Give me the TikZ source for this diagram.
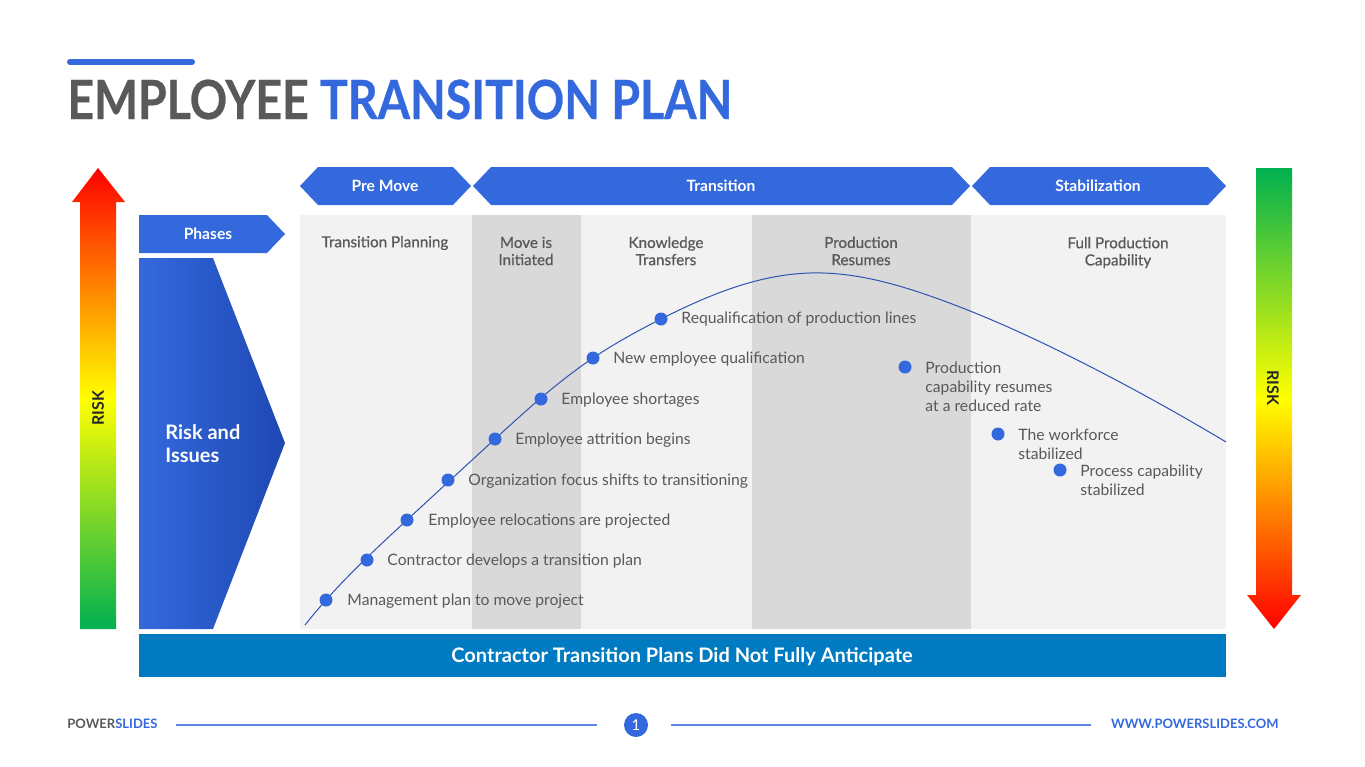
\documentclass[tikz,border=0pt]{standalone}
\usepackage{fontspec}
\setmainfont{Lato}
\usetikzlibrary{hobby}
\newfontfamily\titlefont[FakeStretch=0.86,FakeBold=0.5]{Lato}
\newfontfamily\headfont[FakeBold=0.7]{Lato}
\definecolor{mainblue}{RGB}{52,105,221}
\definecolor{deepblue}{RGB}{30,72,178}
\definecolor{barblue}{RGB}{0,122,192}
\definecolor{txtgray}{RGB}{89,89,89}
\definecolor{panelgray}{RGB}{242,242,242}
\definecolor{colgray}{RGB}{217,217,217}
\definecolor{curveblue}{RGB}{47,82,178}
\definecolor{riskred}{RGB}{255,0,0}
\definecolor{riskyellow}{RGB}{255,255,0}
\definecolor{riskgreen}{RGB}{0,176,80}
\tikzset{every picture/.style={x=.5pt,y=-.5pt}}
\tikzset{phase/.style={text=white,font=\bfseries\fontsize{7.8}{9}\selectfont}}
\tikzset{colhead/.style={text=txtgray,align=center,font=\headfont\fontsize{7.6}{8.6}\selectfont}}
\tikzset{dot/.style={circle,fill=mainblue,inner sep=0pt,minimum size=6.5pt}}
\tikzset{item/.style={text=txtgray,anchor=west,inner sep=0pt,align=left,font=\fontsize{7.85}{9.5}\selectfont}}
\tikzset{risklabel/.style={text=black!85,font=\bfseries\fontsize{8}{9}\selectfont}}
\tikzset{footline/.style={draw=mainblue!80,line width=.6pt}}

\begin{document}
\begin{tikzpicture}
\useasboundingbox (0,0) rectangle (1365,766);

% title
\draw [mainblue,line width=3pt,line cap=round] (70,62) -- (192,62);
\node [anchor=base west,inner sep=0pt,font=\titlefont\bfseries\fontsize{27}{30}\selectfont] (title) at (67,119) {\textcolor{txtgray}{EMPLOYEE} \textcolor{mainblue}{TRANSITION PLAN}};

% phase banners
\fill [mainblue] (300,186) -- (318,167) -- (453,167) -- (471,186) -- (453,205) -- (318,205) -- cycle;
\fill [mainblue] (473,186) -- (491,167) -- (952,167) -- (970,186) -- (952,205) -- (491,205) -- cycle;
\fill [mainblue] (972,186) -- (990,167) -- (1208,167) -- (1226,186) -- (1208,205) -- (990,205) -- cycle;
\node [phase] (premove) at (385,186) {Pre Move};
\node [phase] (transition) at (721,186) {Transition};
\node [phase] (stabilization) at (1098,186) {Stabilization};

\fill [mainblue] (139,215) -- (267,215) -- (285,234) -- (267,253) -- (139,253) -- cycle;
\node [phase] (phases) at (208,234) {Phases};

% panel and columns
\fill [panelgray] (300,215) rectangle (1226,629);
\fill [colgray] (472,215) rectangle (581,629);
\fill [colgray] (752,215) rectangle (971,629);
\node [colhead] (planning) at (385,243) {Transition Planning};
\node [colhead] (initiated) at (526,251) {Move is\\Initiated};
\node [colhead] (knowledge) at (666,251) {Knowledge\\Transfers};
\node [colhead] (resumes) at (861,251) {Production\\Resumes};
\node [colhead] (fullprod) at (1118,252.5) {Full Production\\Capability};

% risk and issues
\shade [left color=mainblue,right color=deepblue] (139,258) -- (213,258) -- (285,443) -- (213,629) -- (139,629) -- cycle;
\node [anchor=west,align=left,inner sep=0pt,text=white,font=\bfseries\fontsize{10}{11.5}\selectfont] (risk) at (165,444) {Risk and\\Issues};

% risk arrows
\shade [top color=riskred,bottom color=riskgreen,middle color=riskyellow] (98,168) -- (125,202) -- (116,202) -- (116,629) -- (80,629) -- (80,202) -- (72,202) -- cycle;
\node [risklabel,rotate=90] (riskleft) at (98,408) {RISK};
\shade [top color=riskgreen,bottom color=riskred,middle color=riskyellow] (1256,168) -- (1292,168) -- (1292,595) -- (1301,595) -- (1274,629) -- (1247,595) -- (1256,595) -- cycle;
\node [risklabel,rotate=-90] (riskright) at (1273,388) {RISK};

% curve
\coordinate (p1) at (326,600);
\coordinate (p2) at (367,560);
\coordinate (p3) at (407,520);
\coordinate (p4) at (448,480);
\coordinate (p5) at (495,439);
\coordinate (p6) at (541,399);
\coordinate (p7) at (593,358);
\coordinate (p8) at (661,319);
\coordinate (top) at (810,273);
\draw [curveblue,line width=.5pt,use Hobby shortcut] (305,625) .. (p1) .. (p3) .. (p5) .. (p7) .. (p8) .. (top) .. (933,297) .. (1091,367) .. (1226,442);

\node [dot] (d1) at (p1) {};
\node [dot] (d2) at (p2) {};
\node [dot] (d3) at (p3) {};
\node [dot] (d4) at (p4) {};
\node [dot] (d5) at (p5) {};
\node [dot] (d6) at (p6) {};
\node [dot] (d7) at (p7) {};
\node [dot] (d8) at (p8) {};
\node [dot] (d9) at (905,367) {};
\node [dot] (d10) at (998,434) {};
\node [dot] (d11) at (1060,470) {};

\node [item] (t1) at (347,601.5) {Management plan to move project};
\node [item] (t2) at (387,561.5) {Contractor develops a transition plan};
\node [item] (t3) at (428,521.5) {Employee relocations are projected};
\node [item] (t4) at (468,481.5) {Organization focus shifts to transitioning};
\node [item] (t5) at (515,440.5) {Employee attrition begins};
\node [item] (t6) at (561,400.5) {Employee shortages};
\node [item] (t7) at (613,359.5) {New employee qualification};
\node [item] (t8) at (681,319.5) {Requalification of production lines};
\node [item] (t9) at (925,387) {Production\\capability resumes\\at a reduced rate};
\node [item] (t10) at (1018,444) {The workforce\\stabilized};
\node [item] (t11) at (1080,480) {Process capability\\stabilized};

% bottom bar
\fill [barblue] (139,634) rectangle (1226,677);
\node [text=white,font=\bfseries\fontsize{10}{12}\selectfont] (anticipate) at (682,657) {Contractor Transition Plans Did Not Fully Anticipate};

% footer
\node [anchor=west,inner sep=0pt,font=\bfseries\fontsize{6.5}{7}\selectfont] (brand) at (67,724) {\textcolor{txtgray}{POWER}\textcolor{mainblue}{SLIDES}};
\node [circle,fill=mainblue,text=white,inner sep=0pt,minimum size=12pt,font=\fontsize{7.5}{8}\selectfont] (page) at (636,725) {1};
\node [anchor=east,inner sep=0pt,text=mainblue,font=\bfseries\fontsize{6.5}{7}\selectfont] (web) at (1279,724) {WWW.POWERSLIDES.COM};
\coordinate (fa) at (176,725);
\coordinate (fb) at (597,725);
\coordinate (fc) at (671,725);
\coordinate (fd) at (1091,725);
\draw [footline] (fa) -- (fb);
\draw [footline] (fc) -- (fd);
\end{tikzpicture}
\end{document}
